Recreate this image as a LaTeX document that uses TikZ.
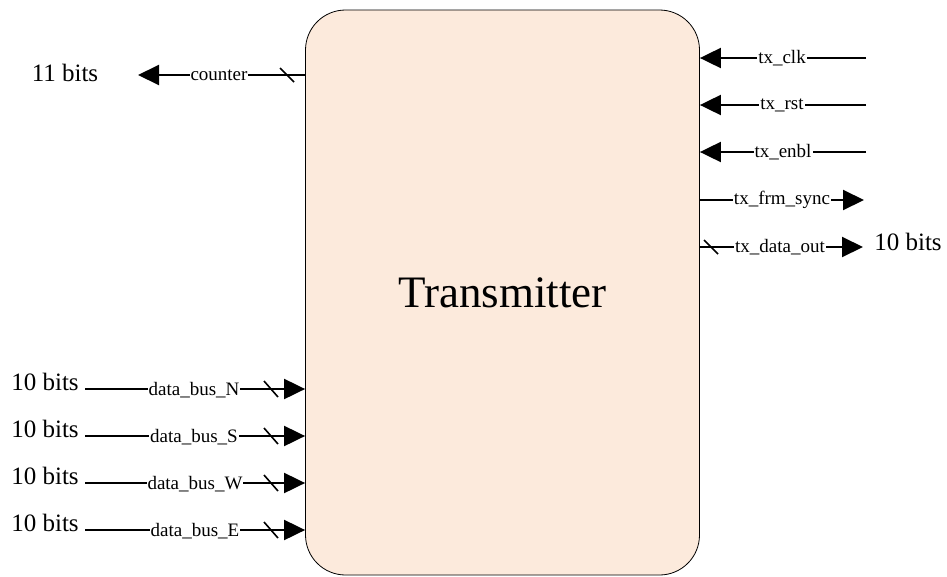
\documentclass[tikz,border=0pt]{standalone}
\usepackage{fontspec}
\setmainfont{Liberation Serif}
\usetikzlibrary{arrows.meta}
\definecolor{peach}{RGB}{252,234,220}
\tikzset{
  blockbox/.style={draw=black, line width=0.8pt, fill=peach, rounded corners=40pt,
    minimum width=394pt, minimum height=565pt, inner sep=0pt,
    font=\fontsize{45}{50}\selectfont},
  sig/.style={line width=2pt, -{Triangle[length=21pt,width=20pt]}},
  wire/.style={line width=2pt},
  lbl/.style={fill=white, inner sep=1pt, font=\fontsize{19}{21}\selectfont},
  bits/.style={inner sep=0pt, font=\fontsize{25}{28}\selectfont},
  busmark/.style={line width=1.6pt}
}
\begin{document}
\begin{tikzpicture}[x=1pt,y=-1pt]
\useasboundingbox (0,0) rectangle (947,576);
\node[blockbox] (tx) at (502.5,292.5) {Transmitter};

% counter output (left)
\coordinate (cntend) at (138,75);
\draw[sig] (tx.west |- cntend) -- (cntend);
\draw[busmark] (280,68) -- (294,82);
\node[lbl] (cntlbl) at (219,75) {counter};
\node[bits] (cntbits) at (65,73) {11 bits};

% right-side inputs
\coordinate (clkin) at (866,58);
\coordinate (rstin) at (866,105);
\coordinate (enin) at (866,152);
\draw[sig] (clkin) -- (clkin -| tx.east);
\draw[sig] (rstin) -- (rstin -| tx.east);
\draw[sig] (enin) -- (enin -| tx.east);
\node[lbl] (clklbl) at (782,58) {tx\_clk};
\node[lbl] (rstlbl) at (782,105) {tx\_rst};
\node[lbl] (enlbl) at (783,152) {tx\_enbl};

% right-side outputs
\coordinate (syncend) at (864,200);
\coordinate (dataend) at (863,247);
\draw[sig] (tx.east |- syncend) -- (syncend);
\draw[sig] (tx.east |- dataend) -- (dataend);
\draw[busmark] (704,240) -- (718,254);
\node[lbl] (synclbl) at (782,200) {tx\_frm\_sync};
\node[lbl] (datalbl) at (780,247) {tx\_data\_out};
\node[bits] (databits) at (908,242) {10 bits};

% left-side data buses
\foreach \nm/\yy/\lx in {N/389/194, S/436/194, W/483/195, E/530/195}{
  \coordinate (bus\nm) at (85,\yy);
  \draw[sig] (bus\nm) -- (bus\nm -| tx.west);
  \draw[busmark] (264,\yy-8) -- (278,\yy+8);
  \node[lbl] (lbl\nm) at (\lx,\yy+1) {data\_bus\_\nm};
  \node[bits] (bits\nm) at (45,\yy-7) {10 bits};
}
\end{tikzpicture}
\end{document}
